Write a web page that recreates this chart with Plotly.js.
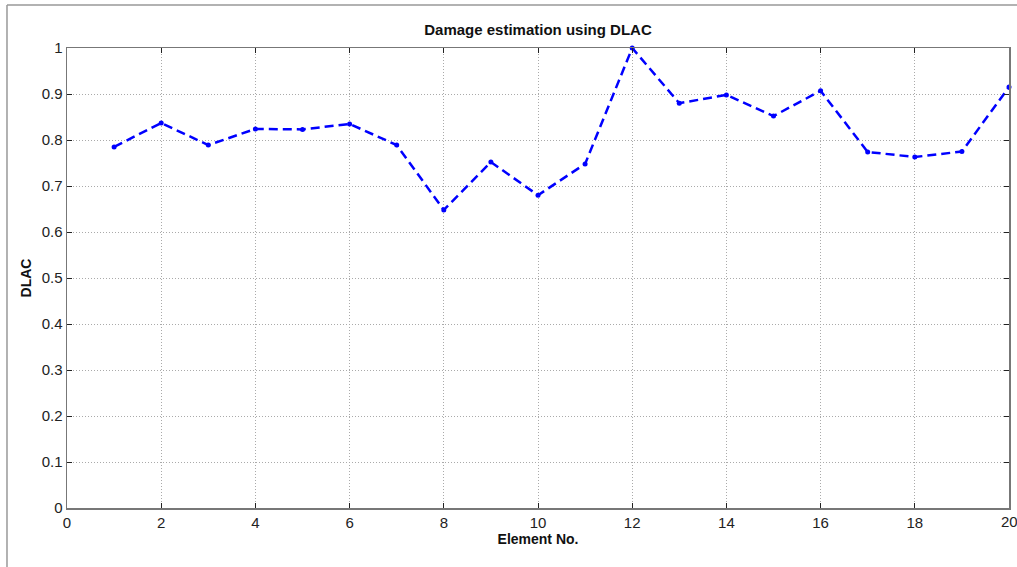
<!DOCTYPE html>
<html>
<head>
<meta charset="utf-8">
<script src="https://cdn.plot.ly/plotly-3.0.1.min.js"></script>
<style>html,body{margin:0;padding:0;background:#fff;}#chart{width:1017px;height:567px;}</style>
</head>
<body>
<div id="chart"></div>
<script>
const elements = [1,2,3,4,5,6,7,8,9,10,11,12,13,14,15,16,17,18,19,20];
const dlac = [0.785,0.837,0.789,0.824,0.823,0.835,0.789,0.648,0.752,0.680,0.748,1.0,0.880,0.898,0.852,0.907,0.774,0.763,0.775,0.915];
const xTicks = [0,2,4,6,8,10,12,14,16,18,20];
const yTicks = [0,0.1,0.2,0.3,0.4,0.5,0.6,0.7,0.8,0.9,1];
const yTickText = ["0","0.1","0.2","0.3","0.4","0.5","0.6","0.7","0.8","0.9","1"];

const FONT = 'Liberation Sans, Arial, sans-serif';
const trace = {
  x: elements, y: dlac, type: 'scatter', mode: 'lines+markers',
  line: {color: '#0000ff', width: 2.5, dash: '9px,5px'},
  marker: {color: '#0000ff', size: 5, symbol: 'circle'},
  hoverinfo: 'skip', cliponaxis: false
};
const axisCommon = {
  showline: true, linecolor: '#777', linewidth: 1.5, mirror: 'ticks',
  ticks: 'inside', ticklen: 5, tickcolor: '#222', tickwidth: 1,
  showgrid: true, gridcolor: '#aaa', griddash: '1px,2px', gridwidth: 1,
  zeroline: false, tickfont: {family: FONT, size: 15, color: '#222'}
};
const lastX = xTicks[xTicks.length - 1];
const layout = {
  width: 1017, height: 567,
  margin: {l: 67, r: 8, t: 48, b: 59},
  paper_bgcolor: '#fff', plot_bgcolor: '#fff',
  showlegend: false,
  title: {text: 'Damage estimation using DLAC', font: {family: FONT, size: 15, color: '#111', weight: 'bold'}, xref: 'paper', x: 0.5, xanchor: 'center', y: 0.947, yanchor: 'middle'},
  xaxis: Object.assign({}, axisCommon, {range: [0, 20], tickvals: xTicks.slice(0, -1), ticktext: xTicks.slice(0, -1).map(String),
    title: {text: 'Element No.', font: {family: FONT, size: 14, color: '#111', weight: 'bold'}, standoff: 4}}),
  yaxis: Object.assign({}, axisCommon, {range: [0, 1], tickvals: yTicks, ticktext: yTickText,
    title: {text: 'DLAC', font: {family: FONT, size: 14, color: '#111', weight: 'bold'}, standoff: 6}}),
  annotations: [
    {x: lastX, xref: 'x', y: 0, yref: 'paper', yanchor: 'top', yshift: -3, text: String(lastX), showarrow: false, font: {family: FONT, size: 15, color: '#222'}}
  ],
  shapes: [
    {type: 'line', xref: 'paper', yref: 'paper', x0: -0.0637, x1: -0.0637, y0: -0.13, y1: 1.0935, line: {color: '#999', width: 1.5}},
    {type: 'line', xref: 'paper', yref: 'paper', x0: -0.0637, x1: 1.01, y0: 1.0935, y1: 1.0935, line: {color: '#999', width: 1.5}}
  ]
};
Plotly.newPlot('chart', [trace], layout, {displayModeBar: false, staticPlot: true});
</script>
</body>
</html>
